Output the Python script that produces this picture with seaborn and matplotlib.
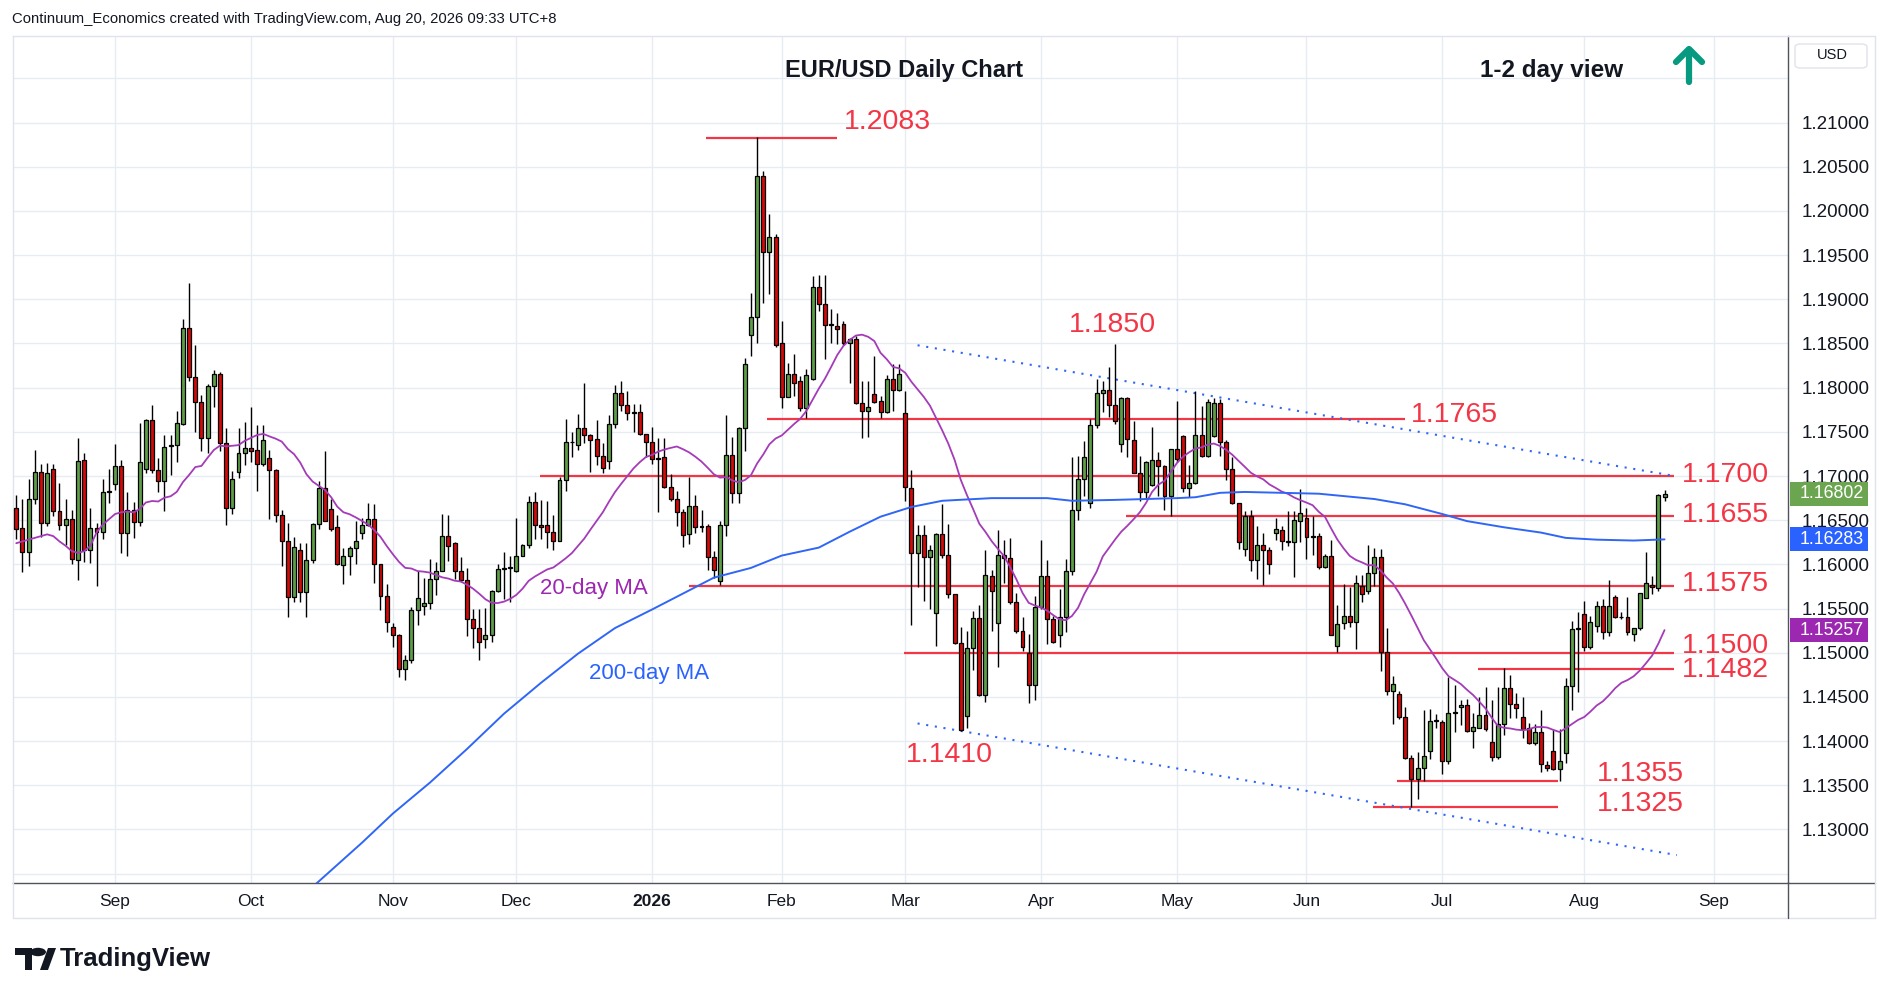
import numpy as np
import pandas as pd
import matplotlib
matplotlib.use("Agg")
import matplotlib.pyplot as plt
import seaborn as sns
from matplotlib.lines import Line2D
from matplotlib.patches import Polygon, Circle, Rectangle, FancyBboxPatch
import matplotlib.transforms as mtransforms

# ---- daily EUR/USD candles (Aug 8 2025 .. Aug 20 2026) ----
opens = [
    1.1664, 1.1641, 1.1614, 1.1674, 1.1705, 1.1647, 1.1708, 1.1660, 1.1645, 1.1651,
    1.1605, 1.1718, 1.1616, 1.1641, 1.1637, 1.1682, 1.1691, 1.1711, 1.1636, 1.1661,
    1.1648, 1.1708, 1.1763, 1.1707, 1.1694, 1.1734, 1.1735, 1.1759, 1.1867, 1.1812,
    1.1784, 1.1743, 1.1802, 1.1815, 1.1737, 1.1664, 1.1705, 1.1726, 1.1732, 1.1729,
    1.1714, 1.1720, 1.1707, 1.1656, 1.1627, 1.1563, 1.1616, 1.1569, 1.1605, 1.1646,
    1.1686, 1.1663, 1.1642, 1.1599, 1.1610, 1.1619, 1.1635, 1.1645, 1.1651, 1.1600,
    1.1564, 1.1529, 1.1520, 1.1482, 1.1492, 1.1548, 1.1553, 1.1556, 1.1583, 1.1593,
    1.1632, 1.1624, 1.1592, 1.1582, 1.1538, 1.1528, 1.1516, 1.1520, 1.1570, 1.1595,
    1.1596, 1.1592, 1.1610, 1.1622, 1.1671, 1.1645, 1.1645, 1.1637, 1.1627, 1.1695,
    1.1738, 1.1735, 1.1754, 1.1747, 1.1742, 1.1723, 1.1717, 1.1759, 1.1794, 1.1780,
    1.1771, 1.1772, 1.1748, 1.1739, 1.1719, 1.1721, 1.1688, 1.1674, 1.1659, 1.1634,
    1.1666, 1.1642, 1.1643, 1.1608, 1.1581, 1.1645, 1.1724, 1.1681, 1.1754, 1.1860,
    1.1880, 1.2039, 1.1953, 1.1971, 1.1851, 1.1790, 1.1816, 1.1807, 1.1777, 1.1810,
    1.1914, 1.1895, 1.1871, 1.1870, 1.1872, 1.1850, 1.1855, 1.1783, 1.1774, 1.1793,
    1.1785, 1.1772, 1.1810, 1.1797, 1.1771, 1.1687, 1.1613, 1.1633, 1.1608, 1.1545,
    1.1634, 1.1611, 1.1567, 1.1511, 1.1428, 1.1505, 1.1539, 1.1452, 1.1587, 1.1534,
    1.1611, 1.1607, 1.1557, 1.1525, 1.1500, 1.1463, 1.1552, 1.1587, 1.1538, 1.1520,
    1.1540, 1.1593, 1.1662, 1.1697, 1.1669, 1.1758, 1.1794, 1.1797, 1.1780, 1.1736,
    1.1788, 1.1741, 1.1704, 1.1682, 1.1690, 1.1718, 1.1711, 1.1677, 1.1731, 1.1745,
    1.1686, 1.1692, 1.1747, 1.1723, 1.1745, 1.1783, 1.1738, 1.1708, 1.1669, 1.1617,
    1.1655, 1.1605, 1.1622, 1.1616, 1.1635, 1.1639, 1.1627, 1.1625, 1.1649, 1.1652,
    1.1631, 1.1632, 1.1597, 1.1610, 1.1508, 1.1534, 1.1542, 1.1535, 1.1575, 1.1570,
    1.1590, 1.1608, 1.1501, 1.1457, 1.1453, 1.1427, 1.1381, 1.1357, 1.1370, 1.1389,
    1.1423, 1.1422, 1.1377, 1.1432, 1.1439, 1.1441, 1.1412, 1.1415, 1.1429, 1.1399,
    1.1382, 1.1419, 1.1460, 1.1442, 1.1427, 1.1415, 1.1398, 1.1410, 1.1373, 1.1389,
    1.1368, 1.1386, 1.1462, 1.1527, 1.1544, 1.1506, 1.1530, 1.1553, 1.1523, 1.1563,
    1.1540, 1.1541, 1.1521, 1.1528, 1.1562, 1.1577, 1.1573, 1.1676,
]
highs = [
    1.1679, 1.1674, 1.1697, 1.1730, 1.1714, 1.1715, 1.1714, 1.1692, 1.1674, 1.1662,
    1.1743, 1.1726, 1.1664, 1.1647, 1.1697, 1.1708, 1.1736, 1.1718, 1.1682, 1.1671,
    1.1760, 1.1765, 1.1780, 1.1720, 1.1746, 1.1747, 1.1774, 1.1878, 1.1918, 1.1848,
    1.1792, 1.1804, 1.1820, 1.1818, 1.1754, 1.1706, 1.1754, 1.1761, 1.1778, 1.1758,
    1.1758, 1.1729, 1.1708, 1.1661, 1.1647, 1.1631, 1.1624, 1.1624, 1.1647, 1.1694,
    1.1728, 1.1674, 1.1656, 1.1618, 1.1621, 1.1649, 1.1652, 1.1669, 1.1668, 1.1601,
    1.1578, 1.1534, 1.1521, 1.1497, 1.1552, 1.1592, 1.1585, 1.1606, 1.1603, 1.1657,
    1.1656, 1.1625, 1.1608, 1.1596, 1.1550, 1.1550, 1.1551, 1.1571, 1.1600, 1.1614,
    1.1609, 1.1652, 1.1623, 1.1677, 1.1682, 1.1673, 1.1672, 1.1656, 1.1699, 1.1764,
    1.1750, 1.1770, 1.1805, 1.1748, 1.1763, 1.1737, 1.1769, 1.1803, 1.1808, 1.1796,
    1.1781, 1.1782, 1.1748, 1.1755, 1.1743, 1.1743, 1.1702, 1.1683, 1.1663, 1.1699,
    1.1678, 1.1661, 1.1646, 1.1615, 1.1649, 1.1769, 1.1744, 1.1756, 1.1834, 1.1907,
    1.2084, 1.2045, 1.1997, 1.1974, 1.1875, 1.1828, 1.1838, 1.1813, 1.1821, 1.1926,
    1.1927, 1.1927, 1.1889, 1.1884, 1.1875, 1.1856, 1.1858, 1.1807, 1.1807, 1.1836,
    1.1791, 1.1814, 1.1827, 1.1827, 1.1796, 1.1707, 1.1645, 1.1645, 1.1622, 1.1635,
    1.1668, 1.1646, 1.1567, 1.1529, 1.1525, 1.1547, 1.1554, 1.1616, 1.1594, 1.1639,
    1.1628, 1.1630, 1.1568, 1.1540, 1.1521, 1.1564, 1.1628, 1.1605, 1.1542, 1.1572,
    1.1606, 1.1721, 1.1723, 1.1740, 1.1765, 1.1810, 1.1808, 1.1823, 1.1849, 1.1790,
    1.1790, 1.1762, 1.1723, 1.1717, 1.1755, 1.1727, 1.1713, 1.1731, 1.1785, 1.1747,
    1.1713, 1.1796, 1.1779, 1.1787, 1.1788, 1.1787, 1.1741, 1.1721, 1.1669, 1.1660,
    1.1662, 1.1644, 1.1636, 1.1620, 1.1652, 1.1644, 1.1660, 1.1660, 1.1685, 1.1664,
    1.1655, 1.1635, 1.1612, 1.1628, 1.1554, 1.1578, 1.1574, 1.1588, 1.1588, 1.1622,
    1.1618, 1.1617, 1.1528, 1.1474, 1.1457, 1.1439, 1.1384, 1.1388, 1.1435, 1.1436,
    1.1431, 1.1424, 1.1473, 1.1463, 1.1446, 1.1448, 1.1432, 1.1450, 1.1461, 1.1446,
    1.1461, 1.1483, 1.1475, 1.1454, 1.1450, 1.1421, 1.1419, 1.1435, 1.1378, 1.1414,
    1.1414, 1.1471, 1.1536, 1.1546, 1.1559, 1.1542, 1.1559, 1.1561, 1.1582, 1.1565,
    1.1546, 1.1563, 1.1528, 1.1568, 1.1614, 1.1587, 1.1680, 1.1684,
]
lows = [
    1.1629, 1.1591, 1.1598, 1.1668, 1.1631, 1.1644, 1.1655, 1.1639, 1.1622, 1.1601,
    1.1582, 1.1603, 1.1602, 1.1575, 1.1629, 1.1670, 1.1684, 1.1613, 1.1609, 1.1630,
    1.1643, 1.1704, 1.1704, 1.1682, 1.1660, 1.1701, 1.1716, 1.1758, 1.1808, 1.1750,
    1.1728, 1.1726, 1.1778, 1.1728, 1.1645, 1.1657, 1.1698, 1.1712, 1.1716, 1.1683,
    1.1711, 1.1651, 1.1648, 1.1598, 1.1541, 1.1557, 1.1557, 1.1541, 1.1602, 1.1640,
    1.1649, 1.1638, 1.1599, 1.1578, 1.1588, 1.1601, 1.1629, 1.1643, 1.1579, 1.1548,
    1.1524, 1.1507, 1.1473, 1.1469, 1.1488, 1.1531, 1.1543, 1.1549, 1.1565, 1.1592,
    1.1604, 1.1583, 1.1580, 1.1519, 1.1505, 1.1492, 1.1505, 1.1512, 1.1569, 1.1561,
    1.1558, 1.1591, 1.1609, 1.1618, 1.1629, 1.1629, 1.1618, 1.1616, 1.1626, 1.1683,
    1.1721, 1.1729, 1.1737, 1.1705, 1.1712, 1.1703, 1.1708, 1.1754, 1.1774, 1.1763,
    1.1750, 1.1746, 1.1722, 1.1714, 1.1659, 1.1686, 1.1672, 1.1643, 1.1620, 1.1623,
    1.1635, 1.1637, 1.1594, 1.1585, 1.1577, 1.1632, 1.1670, 1.1670, 1.1728, 1.1836,
    1.1851, 1.1896, 1.1906, 1.1846, 1.1777, 1.1789, 1.1791, 1.1774, 1.1766, 1.1809,
    1.1887, 1.1833, 1.1851, 1.1849, 1.1848, 1.1805, 1.1782, 1.1743, 1.1744, 1.1783,
    1.1766, 1.1771, 1.1774, 1.1796, 1.1672, 1.1531, 1.1574, 1.1559, 1.1549, 1.1508,
    1.1607, 1.1562, 1.1510, 1.1411, 1.1415, 1.1480, 1.1451, 1.1444, 1.1525, 1.1484,
    1.1579, 1.1555, 1.1522, 1.1502, 1.1443, 1.1447, 1.1549, 1.1510, 1.1511, 1.1506,
    1.1523, 1.1588, 1.1650, 1.1677, 1.1664, 1.1754, 1.1773, 1.1767, 1.1759, 1.1727,
    1.1721, 1.1703, 1.1672, 1.1674, 1.1689, 1.1677, 1.1662, 1.1655, 1.1716, 1.1682,
    1.1676, 1.1691, 1.1722, 1.1722, 1.1744, 1.1723, 1.1696, 1.1668, 1.1617, 1.1609,
    1.1593, 1.1583, 1.1577, 1.1589, 1.1628, 1.1616, 1.1621, 1.1586, 1.1625, 1.1606,
    1.1611, 1.1595, 1.1596, 1.1520, 1.1501, 1.1527, 1.1529, 1.1504, 1.1557, 1.1567,
    1.1575, 1.1479, 1.1452, 1.1419, 1.1425, 1.1380, 1.1326, 1.1334, 1.1355, 1.1380,
    1.1415, 1.1363, 1.1374, 1.1410, 1.1418, 1.1410, 1.1392, 1.1415, 1.1412, 1.1378,
    1.1380, 1.1407, 1.1426, 1.1426, 1.1404, 1.1397, 1.1396, 1.1365, 1.1366, 1.1367,
    1.1355, 1.1375, 1.1435, 1.1456, 1.1502, 1.1504, 1.1523, 1.1516, 1.1519, 1.1539,
    1.1538, 1.1520, 1.1513, 1.1526, 1.1562, 1.1567, 1.1570, 1.1672,
]
closes = [
    1.1640, 1.1614, 1.1674, 1.1705, 1.1647, 1.1703, 1.1660, 1.1645, 1.1651, 1.1606,
    1.1717, 1.1616, 1.1641, 1.1637, 1.1682, 1.1683, 1.1711, 1.1636, 1.1661, 1.1648,
    1.1716, 1.1763, 1.1707, 1.1694, 1.1733, 1.1735, 1.1760, 1.1867, 1.1812, 1.1784,
    1.1743, 1.1802, 1.1815, 1.1737, 1.1664, 1.1697, 1.1726, 1.1732, 1.1728, 1.1714,
    1.1741, 1.1707, 1.1656, 1.1627, 1.1563, 1.1620, 1.1569, 1.1605, 1.1646, 1.1686,
    1.1649, 1.1640, 1.1600, 1.1610, 1.1619, 1.1626, 1.1645, 1.1651, 1.1600, 1.1564,
    1.1535, 1.1520, 1.1482, 1.1492, 1.1548, 1.1562, 1.1556, 1.1583, 1.1593, 1.1632,
    1.1621, 1.1592, 1.1582, 1.1538, 1.1528, 1.1512, 1.1520, 1.1570, 1.1595, 1.1596,
    1.1597, 1.1610, 1.1622, 1.1671, 1.1645, 1.1642, 1.1637, 1.1627, 1.1695, 1.1738,
    1.1739, 1.1754, 1.1747, 1.1741, 1.1723, 1.1709, 1.1759, 1.1794, 1.1780, 1.1771,
    1.1772, 1.1748, 1.1739, 1.1719, 1.1720, 1.1688, 1.1674, 1.1659, 1.1633, 1.1666,
    1.1642, 1.1643, 1.1608, 1.1594, 1.1645, 1.1724, 1.1681, 1.1754, 1.1827, 1.1880,
    1.2039, 1.1953, 1.1971, 1.1848, 1.1790, 1.1816, 1.1805, 1.1777, 1.1814, 1.1914,
    1.1895, 1.1871, 1.1872, 1.1866, 1.1850, 1.1855, 1.1783, 1.1774, 1.1778, 1.1784,
    1.1772, 1.1810, 1.1797, 1.1816, 1.1688, 1.1613, 1.1633, 1.1608, 1.1616, 1.1634,
    1.1611, 1.1567, 1.1511, 1.1413, 1.1505, 1.1539, 1.1452, 1.1588, 1.1570, 1.1611,
    1.1607, 1.1557, 1.1525, 1.1507, 1.1463, 1.1552, 1.1587, 1.1538, 1.1512, 1.1540,
    1.1593, 1.1662, 1.1697, 1.1722, 1.1758, 1.1794, 1.1797, 1.1780, 1.1762, 1.1788,
    1.1742, 1.1704, 1.1682, 1.1716, 1.1718, 1.1711, 1.1677, 1.1731, 1.1719, 1.1686,
    1.1692, 1.1747, 1.1723, 1.1784, 1.1783, 1.1738, 1.1708, 1.1669, 1.1625, 1.1655,
    1.1605, 1.1622, 1.1616, 1.1601, 1.1640, 1.1627, 1.1625, 1.1650, 1.1658, 1.1631,
    1.1632, 1.1597, 1.1610, 1.1520, 1.1533, 1.1542, 1.1535, 1.1579, 1.1567, 1.1590,
    1.1608, 1.1501, 1.1457, 1.1465, 1.1427, 1.1381, 1.1357, 1.1370, 1.1383, 1.1423,
    1.1424, 1.1377, 1.1432, 1.1433, 1.1441, 1.1412, 1.1416, 1.1429, 1.1414, 1.1382,
    1.1419, 1.1460, 1.1442, 1.1438, 1.1414, 1.1398, 1.1410, 1.1374, 1.1370, 1.1368,
    1.1377, 1.1462, 1.1527, 1.1528, 1.1506, 1.1535, 1.1553, 1.1523, 1.1553, 1.1540,
    1.1541, 1.1523, 1.1528, 1.1568, 1.1579, 1.1574, 1.1678, 1.16802,
]

# 20-day MA for the first 19 bars (earlier closes are off-chart)
ma20_head = [1.1624, 1.1626, 1.1628, 1.1630, 1.1632, 1.1634, 1.1632, 1.1626, 1.1621, 1.1615,
             1.1613, 1.1615, 1.1621, 1.1636, 1.1645, 1.1651, 1.1657, 1.1659, 1.1660]

# 200-day MA (bar number, value)
ma200_bars = [48, 56, 61, 67, 73, 79, 85, 91, 97, 103, 108, 113, 119, 124, 130, 135, 140,
              145, 150, 158, 167, 171, 178, 183, 188, 191, 195, 199, 205, 211, 220, 225,
              231, 235, 241, 247, 251, 256, 262, 267]
ma200_vals = [1.1235, 1.1285, 1.1318, 1.1353, 1.1391, 1.1431, 1.1466, 1.1499, 1.1528, 1.1549,
              1.1567, 1.1585, 1.1596, 1.1610, 1.1619, 1.1637, 1.1654, 1.1665, 1.1672, 1.1675,
              1.1675, 1.1672, 1.1673, 1.1674, 1.1675, 1.1676, 1.1681, 1.1682, 1.1681, 1.1680,
              1.1674, 1.1668, 1.1657, 1.1649, 1.1642, 1.1636, 1.1630, 1.1628, 1.1627, 1.16283]

first_day = "2025-08-08"
skip_days = ["2025-12-25", "2026-01-01"]

# support / resistance levels and the lows/highs that were tagged
levels = [1.2083, 1.1765, 1.1700, 1.1655, 1.1575, 1.1500, 1.1482, 1.1355, 1.1325]
level_span = [(111.8, 132.9), (121.6, 224.9), (84.9, 268.6), (179.7, 268.6), (108.9, 268.6),
              (143.8, 268.6), (236.8, 268.6), (223.6, 249.7), (219.7, 249.7)]
level_label_pos = [(134.0, 1.2101), (225.9, 1.1769), (269.8, 1.1701), (269.8, 1.1656),
                   (269.8, 1.1578), (269.8, 1.1508), (269.8, 1.1480), (256.0, 1.1363),
                   (256.0, 1.1329)]
swing_labels = [1.1850, 1.1410]
swing_label_pos = [(177.5, 1.1871), (151.2, 1.1384)]

channel_upper = ([146.0, 268.7], [1.1848, 1.1700])
channel_lower = ([146.0, 269.0], [1.1420, 1.1271])

# ---- colours ----
GREEN = "#5E9E48"
RED = "#D20A0A"
LEVEL_RED = "#F23645"
PURPLE = "#A43BB8"
BLUE = "#2F66F5"
GRID = "#E6ECF2"
TEAL = "#089981"
DARK = "#131722"

sns.set_theme(style="white")
plt.rcParams["font.family"] = ["Liberation Sans", "DejaVu Sans"]

W, H = 1888, 996
fig = plt.figure(figsize=(W / 100, H / 100), dpi=100)
fig.patch.set_facecolor("white")
ax_l, ax_r, ax_t, ax_b = 13 / W, 1788 / W, 1 - 36 / H, 1 - 882.5 / H
ax = fig.add_axes([ax_l, ax_b, ax_r - ax_l, ax_t - ax_b])

# trading-day calendar
cal = pd.bdate_range(first_day, periods=420)
cal = cal[~cal.isin(pd.to_datetime(skip_days))]
n = len(closes)
x = np.arange(n)

o = np.array(opens)
h = np.array(highs)
l = np.array(lows)
c = np.array(closes)

x_lo, x_hi = -0.53, 287.0
y_lo, y_hi = 1.1240, 1.2198

# grid
for p in np.arange(1.125, 1.2151, 0.005):
    ax.axhline(p, color=GRID, lw=1.0, zorder=0)
idx = pd.Series(np.arange(len(cal)), index=cal)
month_first = idx.groupby(cal.to_period("M")).first()
month_first = month_first[(month_first > 0) & (month_first < x_hi)]
month_pos = month_first.values
month_lab = [str(d.year) if d.month == 1 else d.strftime("%b") for d in cal[month_pos]]
for mp in month_pos:
    ax.axvline(mp, color=GRID, lw=1.0, zorder=0)

# level lines
for v, (a, b) in zip(levels, level_span):
    ax.plot([a, b], [v, v], color=LEVEL_RED, lw=1.6, zorder=2, solid_capstyle="butt")

# channel
for xs, ys in (channel_upper, channel_lower):
    ax.plot(xs, ys, color=BLUE, lw=1.5, ls=(0, (1, 3.2)), zorder=2)

# candles
up = c >= o
body_lo = np.minimum(o, c)
body_h = np.maximum(np.abs(c - o), 0.00003)
ax.vlines(x, l, h, color="black", lw=1.0, zorder=3)
ax.bar(x[up], body_h[up], bottom=body_lo[up], width=0.64, color=GREEN,
       edgecolor="black", linewidth=0.9, zorder=4)
ax.bar(x[~up], body_h[~up], bottom=body_lo[~up], width=0.64, color=RED,
       edgecolor="black", linewidth=0.9, zorder=4)

# moving averages
ma20 = pd.Series(c).rolling(20).mean()
ma20.iloc[:19] = ma20_head
ma_df = pd.DataFrame({"bar": x, "ma20": ma20.values})
sns.lineplot(data=ma_df, x="bar", y="ma20", ax=ax, color=PURPLE, lw=1.3, zorder=5)
ma200_df = pd.DataFrame({"bar": ma200_bars, "ma200": ma200_vals})
sns.lineplot(data=ma200_df, x="bar", y="ma200", ax=ax, color=BLUE, lw=1.4, zorder=5)

# annotations
for v, (px, py) in zip(levels, level_label_pos):
    ax.text(px, py, f"{v:.4f}", color=LEVEL_RED, fontsize=20.5, ha="left", va="center", zorder=6)
for v, (px, py) in zip(swing_labels, swing_label_pos):
    ax.text(px, py, f"{v:.4f}", color=LEVEL_RED, fontsize=20.5, ha="center", va="center", zorder=6)
ax.text(93.5, 1.1573, "20-day MA", color="#9C27B0", fontsize=16, ha="center", va="center", zorder=6)
ax.text(102.5, 1.1477, "200-day MA", color="#2962FF", fontsize=16, ha="center", va="center", zorder=6)

ax.set_xlim(x_lo, x_hi)
ax.set_ylim(y_lo, y_hi)
ax.set_xlabel("")
ax.set_ylabel("")

# axes: price scale on the right
ticks = np.arange(1.13, 1.2101, 0.005)
ax.yaxis.tick_right()
ax.set_yticks(ticks)
ax.set_yticklabels([f"{t:.5f}" for t in ticks])
ax.tick_params(axis="y", length=0, pad=10, labelsize=13.5, labelcolor=DARK)
ax.set_xticks(month_pos)
ax.set_xticklabels(month_lab)
ax.tick_params(axis="x", length=0, pad=8, labelsize=12.5, labelcolor=DARK)
for lab in ax.get_xticklabels():
    if lab.get_text().isdigit():
        lab.set_fontweight("bold")

for side in ("left", "top"):
    ax.spines[side].set_color("#E0E3EB")
    ax.spines[side].set_linewidth(1.0)
for side in ("right", "bottom"):
    ax.spines[side].set_color("#50535E")
    ax.spines[side].set_linewidth(1.0)

# price badges on the scale
blend = mtransforms.blended_transform_factory(ax.transAxes, ax.transData)
ppx = (y_hi - y_lo) / (H * (ax_t - ax_b))
axw = W * (ax_r - ax_l)
badges = [(c[-1], "#6BA54F"), (ma200_vals[-1], "#2962FF"), (ma20.iloc[-1], "#9C27B0")]
for val, col in badges:
    ax.add_patch(Rectangle((1 + 2 / axw, val - 12 * ppx), 78 / axw, 24 * ppx, transform=blend,
                           facecolor=col, edgecolor="none", clip_on=False, zorder=7))
    ax.text(1 + 12 / axw, val, f"{val:.5f}", transform=blend, color="white",
            fontsize=12.8, ha="left", va="center", clip_on=False, zorder=8)

# outer frame of the scale columns
fx = lambda px: px / W
fy = lambda py: 1 - py / H
fig.add_artist(Line2D([fx(1788), fx(1875)], [fy(882.5), fy(882.5)], color="#50535E", lw=1.0))
fig.add_artist(Line2D([fx(1875), fx(1875)], [fy(36), fy(918)], color="#E0E3EB", lw=1.0))
fig.add_artist(Line2D([fx(1788), fx(1875)], [fy(36), fy(36)], color="#E0E3EB", lw=1.0))
fig.add_artist(Line2D([fx(13), fx(1875)], [fy(918), fy(918)], color="#E0E3EB", lw=1.0))
fig.add_artist(Line2D([fx(13), fx(13)], [fy(882), fy(918)], color="#E0E3EB", lw=1.0))
fig.add_artist(Line2D([fx(1788), fx(1788)], [fy(882), fy(918)], color="#50535E", lw=1.0))
fig.add_artist(FancyBboxPatch((fx(1795), fy(68)), fx(72), 24 / H,
                              boxstyle="round,pad=0,rounding_size=0.003",
                              facecolor="white", edgecolor="#E0E3EB", lw=1.0))
fig.text(fx(1817), fy(55), "USD", fontsize=10.5, color=DARK, ha="left", va="center")

# titles
fig.text(fx(12), fy(19), "Continuum_Economics created with TradingView.com, Aug 20, 2026 09:33 UTC+8",
         fontsize=10.7, color=DARK, ha="left", va="center")
fig.text(fx(904), fy(71), "EUR/USD Daily Chart", fontsize=17, fontweight="bold",
         color=DARK, ha="center", va="center")
fig.text(fx(1552), fy(71), "1-2 day view", fontsize=17.5, fontweight="bold",
         color=DARK, ha="center", va="center")

# up arrow
for seg in ([(1689, 82), (1689, 50)], [(1676, 62), (1689, 49), (1702, 62)]):
    xs, ys = zip(*seg)
    fig.add_artist(Line2D([fx(v) for v in xs], [fy(v) for v in ys], color=TEAL, lw=4.5,
                          solid_capstyle="round", solid_joinstyle="round"))

# TradingView logo
fig.add_artist(Polygon([(fx(15), fy(948)), (fx(32), fy(948)), (fx(32), fy(970)), (fx(25), fy(970)),
                        (fx(25), fy(955)), (fx(15), fy(955))], closed=True, facecolor=DARK,
                       edgecolor="none"))
fig.add_artist(Circle((fx(38), fy(952)), 4.2 / H, facecolor=DARK, edgecolor="none",
                      transform=fig.transFigure))
fig.add_artist(Polygon([(fx(40), fy(970)), (fx(48), fy(970)), (fx(56), fy(948)), (fx(48), fy(948))],
                       closed=True, facecolor=DARK, edgecolor="none"))
fig.text(fx(60), fy(959), "TradingView", fontsize=18.5, fontweight="bold", color=DARK,
         ha="left", va="center")

fig.savefig("out.png", dpi=100, facecolor="white")
